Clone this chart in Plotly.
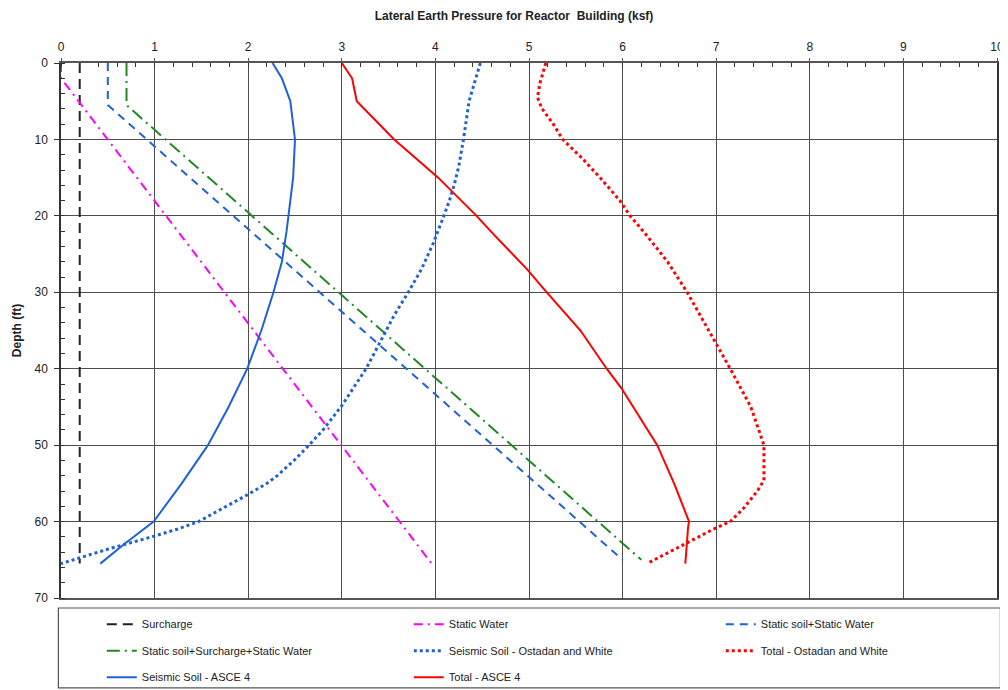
import plotly.graph_objects as go

# ---------------- data (pressure in ksf, depth in ft) ----------------
surcharge_depth = [0, 65.5]
surcharge_p = [0.20, 0.20]

water_depth = [0, 2, 65.5]
water_p = [0.0, 0.0, 3.96]

soil_water_depth = [0, 5.5, 65]
soil_water_p = [0.50, 0.50, 6.0]

soil_sur_water_depth = [0, 5.5, 65]
soil_sur_water_p = [0.70, 0.70, 6.20]

ostadan_depth = [0, 2.5, 5, 10, 13.5, 16, 18, 20, 23.5, 27, 30, 33, 36.5, 40, 45,
                 48, 50, 52, 54, 55, 56.5, 58, 60, 61, 62, 63.5, 65.5]
ostadan_p = [4.48, 4.42, 4.36, 4.30, 4.25, 4.20, 4.15, 4.09, 3.98, 3.85, 3.71, 3.56,
             3.41, 3.26, 2.99, 2.80, 2.65, 2.49, 2.31, 2.20, 1.99, 1.77, 1.47, 1.24,
             0.97, 0.53, 0.0]

total_ostadan_depth = [0, 2.5, 4.5, 6, 8, 10, 12.5, 15, 18, 20, 22.3, 26, 30, 36, 40,
                       45, 50, 54.6, 56, 58.3, 60, 61, 62.8, 65.5]
total_ostadan_p = [5.18, 5.12, 5.09, 5.14, 5.26, 5.36, 5.57, 5.76, 5.97, 6.08, 6.24,
                   6.48, 6.69, 6.97, 7.15, 7.37, 7.51, 7.51, 7.44, 7.29, 7.15, 6.97,
                   6.69, 6.26]

asce_depth = [0, 2, 5, 10, 15, 18, 22, 26, 30, 35, 40, 45, 50, 55, 60, 63, 65.5]
asce_p = [2.26, 2.36, 2.45, 2.50, 2.48, 2.45, 2.41, 2.36, 2.27, 2.14, 1.99, 1.79,
          1.57, 1.29, 0.99, 0.67, 0.42]

total_asce_depth = [0, 2, 5, 10, 15, 20, 22, 27, 30, 35, 40, 42.6, 50, 55, 60, 60.7, 65.5]
total_asce_p = [3.0, 3.11, 3.16, 3.56, 4.03, 4.44, 4.59, 4.98, 5.19, 5.55, 5.83, 5.99,
                6.37, 6.55, 6.71, 6.70, 6.67]

x_ticks = list(range(0, 11))
y_ticks = list(range(0, 71, 10))

BLUE = "#1f62d6"
RED = "#ff0000"
GREEN = "#1f8a1f"
MAGENTA = "#ff00ff"

# legend column for each series (three boxed columns below the plot)
series = [
    ("Surcharge", surcharge_p, surcharge_depth, "#222222", "10px,6px", 2, "legend"),
    ("Static Water", water_p, water_depth, MAGENTA, "9px,5px,2px,5px", 2, "legend2"),
    ("Static soil+Static Water", soil_water_p, soil_water_depth, BLUE, "8px,6px", 2, "legend3"),
    ("Static soil+Surcharge+Static Water", soil_sur_water_p, soil_sur_water_depth, GREEN,
     "13px,5px,2px,5px", 2, "legend"),
    ("Seismic Soil - Ostadan and White", ostadan_p, ostadan_depth, BLUE, "dot", 3, "legend2"),
    ("Total - Ostadan and White", total_ostadan_p, total_ostadan_depth, RED, "dot", 3, "legend3"),
    ("Seismic Soil - ASCE 4", asce_p, asce_depth, BLUE, "solid", 2, "legend"),
    ("Total - ASCE 4", total_asce_p, total_asce_depth, RED, "solid", 2, "legend2"),
]

fig = go.Figure()
for i, (name, xs, ys, color, dash, width, leg) in enumerate(series):
    fig.add_trace(go.Scatter(
        x=xs, y=ys, mode="lines", name=name, legend=leg, legendgroup=f"g{i}",
        line=dict(color=color, dash=dash, width=width),
    ))

# the page body adds an 8px offset, so the figure is 8px smaller than the window
OFF = 8
W, H = 1000, 682
L, R, T, B = 60.6 - OFF, 11.4, 62.5 - OFF, 92
ph = H - T - B
pw = W - L - R

def py(s):  # screen y -> paper y
    return (H - B - (s - OFF)) / ph

def px(s):  # screen x -> paper x
    return (s - OFF - L) / pw

legend_font = dict(family="Liberation Sans Narrow, Arial Narrow, Liberation Sans, Arial",
                   size=11, color="#222222")
common_leg = dict(orientation="v", xanchor="left", yanchor="top", y=py(609.7),
                  tracegroupgap=7.5, font=legend_font,
                  bgcolor="rgba(0,0,0,0)", borderwidth=0)

fig.update_layout(
    width=W, height=H,
    margin=dict(l=L, r=R, t=T, b=B, autoexpand=False),
    paper_bgcolor="white", plot_bgcolor="white",
    font=dict(family="Liberation Sans, Arial", color="#222222", size=12),
    title=dict(text="<b>Lateral Earth Pressure for Reactor  Building (ksf)</b>",
               x=(514 - OFF) / W, xanchor="center", y=1 - (16 - OFF) / H, yanchor="middle",
               font=dict(size=12, color="#222222")),
    legend=dict(x=px(101.4), **common_leg),
    legend2=dict(x=px(408.4), **common_leg),
    legend3=dict(x=px(720.4), **common_leg),
    showlegend=True,
    shapes=[dict(type="rect", xref="paper", yref="paper",
                 x0=px(58), x1=px(1000), y0=py(688), y1=py(608),
                 line=dict(color="#555555", width=1.2), fillcolor="rgba(0,0,0,0)")],
)

fig.update_xaxes(
    side="top", range=[0, 10], tickvals=x_ticks, ticktext=[str(v) for v in x_ticks],
    showgrid=True, gridcolor="#4d4d4d", gridwidth=1.3,
    showline=True, linecolor="#555555", linewidth=1.5, mirror=True,
    ticks="outside", ticklen=3, tickcolor="#555555", ticklabelstandoff=2,
    tickfont=dict(size=12, color="#222222"),
    minor=dict(dtick=0.2, ticks="inside", ticklen=4, tickcolor="#333333", showgrid=False),
    zeroline=False,
)
fig.update_yaxes(
    range=[70, 0], tickvals=y_ticks, ticktext=[str(v) for v in y_ticks],
    showgrid=True, gridcolor="#4d4d4d", gridwidth=1.3,
    showline=True, linecolor="#333333", linewidth=1.5, mirror=True,
    ticks="outside", ticklen=5, tickcolor="#333333", ticklabelstandoff=4,
    tickfont=dict(size=12, color="#222222"),
    minor=dict(dtick=2, ticks="inside", ticklen=4, tickcolor="#333333", showgrid=False),
    title=dict(text="<b>Depth (ft)</b>", font=dict(size=12, color="#222222"), standoff=10),
    zeroline=False,
)

fig.write_html("out.html")
